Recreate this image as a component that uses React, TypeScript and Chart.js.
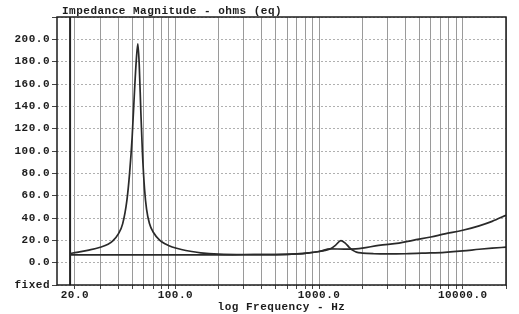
import React, { useEffect, useRef } from "react";
import { Chart, registerables } from "chart.js";

Chart.register(...registerables);

const TITLE = "Impedance Magnitude - ohms (eq)";
const X_TITLE = "log Frequency - Hz";

// Curve with the free-air resonance and the 1.4 kHz bump
const FREQ_A = [18.5, 20, 25, 30, 34, 37, 40, 43, 46, 48, 50, 52, 53.5, 54.8, 56, 57.5, 59, 61, 63, 66, 70, 78, 86, 95, 110, 130, 150, 200, 300, 500, 700, 850, 1000, 1100, 1200, 1300, 1420, 1520, 1620, 1720, 1820, 2000, 2400, 3000, 4000, 5500, 7500, 10000, 13000, 16000, 20000];
const OHMS_A = [8.2, 9, 11.3, 13.8, 16.5, 20, 25.5, 35, 56, 80, 112, 155, 182, 196, 178, 135, 98, 66, 48, 35, 27.5, 20, 16.5, 14, 11.8, 10, 8.8, 7.6, 7.2, 7.2, 7.8, 8.8, 10, 11, 12.4, 15.5, 19.8, 17.5, 13.8, 11, 9.4, 8.6, 8.0, 7.8, 8.0, 8.6, 9.3, 10.5, 12, 13, 13.9];

// Flat curve that rises at high frequency
const FREQ_B = [18.5, 50, 100, 200, 300, 500, 700, 850, 1000, 1200, 1500, 1800, 2000, 2600, 3600, 4500, 6000, 7500, 10000, 13000, 16000, 20000];
const OHMS_B = [7.0, 7.0, 7.0, 7.0, 7.1, 7.2, 7.8, 8.8, 10, 12.3, 12.2, 12.4, 13, 15.5, 17.5, 20, 23, 25.8, 29, 33, 37, 42.5];

const X_GRID_HZ = [20, 30, 40, 50, 60, 70, 80, 90, 100, 200, 300, 400, 500, 600, 700, 800, 900, 1000, 2000, 3000, 4000, 5000, 6000, 7000, 8000, 9000, 10000, 20000];
const X_LABEL_HZ = [20, 100, 1000, 10000];
const X_MIN = 15;
const X_MAX = 20000;
const Y_MIN = -20;
const Y_MAX = 220;
const Y_STEP = 20;
const SWEEP_START_HZ = 18.5;

const FONT_FAMILY = "'Liberation Mono', 'DejaVu Sans Mono', monospace";
const FONT = { family: FONT_FAMILY, size: 11, weight: "bold" as const };
const INK = "#1c1c1c";

const spacingPlugin = {
  id: "spacing",
  beforeLayout(chart: any) {
    chart.ctx.letterSpacing = "0.5px";
  },
  beforeDraw(chart: any) {
    chart.ctx.letterSpacing = "0.5px";
  },
};

const framePlugin = {
  id: "frame",
  beforeDatasetsDraw(chart: any) {
    const { ctx, chartArea: a, scales } = chart;
    const x = scales.x.getPixelForValue(SWEEP_START_HZ);
    ctx.save();
    ctx.strokeStyle = "#222";
    ctx.lineWidth = 2;
    ctx.beginPath();
    ctx.moveTo(x, a.top);
    ctx.lineTo(x, a.bottom);
    ctx.stroke();
    ctx.restore();
  },
  afterDraw(chart: any) {
    const { ctx, chartArea: a } = chart;
    ctx.save();
    ctx.strokeStyle = INK;
    ctx.lineWidth = 1.5;
    ctx.strokeRect(a.left, a.top, a.right - a.left, a.bottom - a.top);
    ctx.letterSpacing = "0.5px";
    ctx.font = `bold 11px ${FONT_FAMILY}`;
    ctx.fillStyle = INK;
    ctx.textBaseline = "middle";
    ctx.textAlign = "left";
    ctx.fillText(TITLE, a.left + 5, a.top - 6);
    ctx.restore();
  },
};

export default function App() {
  const ref = useRef<HTMLCanvasElement | null>(null);

  useEffect(() => {
    if (!ref.current) return;
    const chart = new Chart(ref.current, {
      type: "scatter",
      data: {
        datasets: [
          {
            data: FREQ_A.map((f, i) => ({ x: f, y: OHMS_A[i] })),
            showLine: true,
            borderColor: "#2a2a2a",
            borderWidth: 1.7,
            pointRadius: 0,
            cubicInterpolationMode: "monotone",
          },
          {
            data: FREQ_B.map((f, i) => ({ x: f, y: OHMS_B[i] })),
            showLine: true,
            borderColor: "#2a2a2a",
            borderWidth: 1.7,
            pointRadius: 0,
            cubicInterpolationMode: "monotone",
          },
        ],
      },
      options: {
        responsive: false,
        animation: false,
        devicePixelRatio: 1,
        layout: { padding: { top: 17, right: 13, left: 0, bottom: 0 } },
        plugins: {
          legend: { display: false },
          tooltip: { enabled: false },
          title: { display: false },
        },
        scales: {
          x: {
            type: "logarithmic",
            min: X_MIN,
            max: X_MAX,
            afterBuildTicks: (scale: any) => {
              scale.ticks = X_GRID_HZ.map((v) => ({ value: v }));
            },
            afterFit: (scale: any) => {
              scale.height = 29;
            },
            grid: {
              color: "#9a9a9a",
              lineWidth: 1,
              drawTicks: true,
              tickLength: 4,
              tickColor: "#444",
            },
            border: { display: false },
            ticks: {
              autoSkip: false,
              maxRotation: 0,
              minRotation: 0,
              padding: 0,
              color: INK,
              font: FONT,
              callback: (v: any) =>
                X_LABEL_HZ.includes(Number(v)) ? Number(v).toFixed(1) : "",
            },
            title: {
              display: true,
              text: X_TITLE,
              color: INK,
              font: FONT,
              padding: { top: 0, bottom: 0 },
            },
          },
          y: {
            type: "linear",
            min: Y_MIN,
            max: Y_MAX,
            afterFit: (scale: any) => {
              scale.width = 57;
            },
            grid: {
              color: "#b0b0b0",
              lineWidth: 1,
              drawTicks: true,
              tickLength: 5,
              tickColor: "#444",
            },
            border: { display: false, dash: [2, 2] },
            ticks: {
              stepSize: Y_STEP,
              padding: 2,
              color: INK,
              font: FONT,
              callback: (v: any) =>
                v === Y_MIN ? "fixed" : v === Y_MAX ? "" : Number(v).toFixed(1),
            },
          },
        },
      },
      plugins: [spacingPlugin, framePlugin],
    } as any);
    return () => chart.destroy();
  }, []);

  return (
    <div
      style={{
        position: "fixed",
        left: 0,
        top: 0,
        width: 519,
        height: 314,
        background: "#fff",
      }}
    >
      <canvas ref={ref} width={519} height={314} />
    </div>
  );
}
